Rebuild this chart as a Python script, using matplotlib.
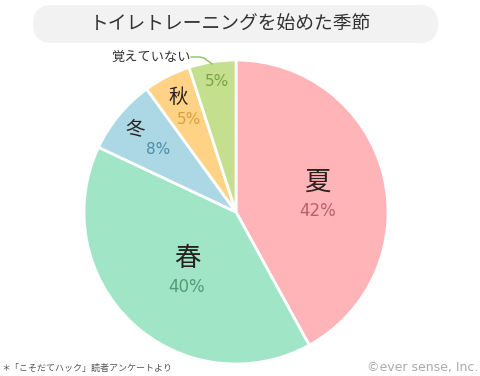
"""Pie chart: season when toilet training started."""
import matplotlib.pyplot as plt
from matplotlib.patches import FancyBboxPatch

plt.rcParams['font.family'] = ['Noto Sans CJK JP', 'DejaVu Sans']

labels = ["夏", "春", "冬", "秋", "覚えていない"]
values = [42, 40, 8, 5, 5]
colors = ["#ffb4b8", "#a0e6c6", "#acd8e6", "#ffd285", "#c4e08e"]
pct_colors = ["#b86070", "#4e9c74", "#4d8ca4", "#d9a040", "#7ba343"]

W, H = 480, 376
fig = plt.figure(figsize=(W / 100, H / 100), dpi=100)
ax = fig.add_axes([0, 0, 1, 1])

cx, cy, r = 236, H - 212, 152
ax.pie(values, colors=colors, startangle=90, counterclock=False,
       center=(cx, cy), radius=r, frame=True,
       wedgeprops=dict(edgecolor="white", linewidth=2))
ax.set_xlim(0, W)
ax.set_ylim(0, H)
ax.set_aspect("equal")
ax.axis("off")

# title box
box = FancyBboxPatch((33, H - 43), 405, 38, boxstyle="round,pad=0,rounding_size=19",
                     facecolor="#f2f2f2", edgecolor="none")
ax.add_patch(box)
ax.text(230, H - 24, "トイレトレーニングを始めた季節", ha="center", va="center",
        fontsize=13.5, color="#333333")

# slice labels
big = [(317, 182, 19), (187, 259, 19), (135, 130, 14), (178, 97, 14)]
pct = [(318, 211, 12), (187, 287, 12), (158, 150, 11), (189, 119, 11), (217, 81, 11)]
for i, (x, y, s) in enumerate(big):
    ax.text(x, H - y, labels[i], ha="center", va="center", fontsize=s, color="#2a2020")
for i, (x, y, s) in enumerate(pct):
    ax.text(x, H - y, f"{values[i]}%", ha="center", va="center", fontsize=s,
            color=pct_colors[i], family="DejaVu Sans")

ax.text(151, H - 57, labels[4], ha="center", va="center", fontsize=9.5, color="#333333")
ax.plot([191, 200, 204, 212], [H - 57, H - 57, H - 58, H - 64], color="#8dc060", lw=1)

ax.text(2, H - 368, "＊「こそだてハック」読者アンケートより", ha="left", va="center",
        fontsize=6.5, color="#555555")
ax.text(478, H - 367, "©ever sense, Inc.", ha="right", va="center",
        fontsize=9, color="#aaaaaa", family="DejaVu Sans")

fig.savefig("out.png", dpi=100)
